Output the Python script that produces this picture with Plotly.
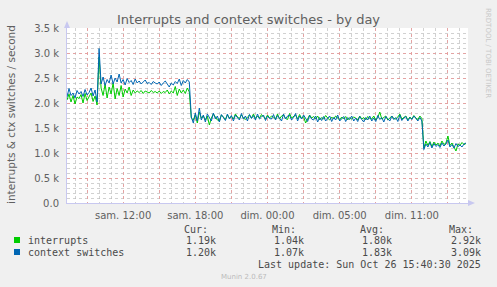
import plotly.graph_objects as go

# ---------------- data (10-minute samples, hours since 07:20 Saturday) ----------------
interrupts = [
    2060, 2180, 2020, 2150, 1980, 2120, 2090, 2170, 2000, 2190, 2050, 2130, 2200, 2030, 2140,
    1960, 2920,
    2300, 2150, 2380, 2100, 2320, 2180, 2400, 2080, 2290, 2150, 2350, 2120, 2280, 2200, 2320,
    2150, 2260, 2200, 2240, 2210, 2250, 2190, 2240, 2220, 2200, 2250, 2210, 2230, 2200, 2240,
    2190, 2230, 2210, 2260, 2180, 2240, 2200, 2330, 2150, 2280, 2200, 2260, 2190, 2300, 2220,
    1700, 1660, 1760, 1600, 1820, 1700, 1740, 1660, 1740, 1560, 1700, 1780, 1720, 1660, 1640, 1760, 1720, 1670, 1760, 1700,
    1730, 1680, 1780, 1720, 1690, 1760, 1700, 1670, 1720, 1760, 1700, 1780, 1690, 1740, 1700, 1770, 1720, 1680, 1760, 1700,
    1740, 1720, 1680, 1780, 1680, 1740, 1760, 1690, 1670, 1790, 1700, 1730, 1760, 1680, 1770, 1690, 1730, 1600, 1680, 1760,
    1700, 1730, 1680, 1740, 1660, 1710, 1680, 1750, 1700, 1660, 1720, 1680, 1740, 1700, 1660, 1720, 1680, 1730, 1660, 1710,
    1680, 1720, 1700, 1660, 1740, 1680, 1710, 1660, 1730, 1690, 1680, 1740, 1660, 1710, 1820, 1680, 1710, 1740, 1660, 1710,
    1740, 1690, 1680, 1720, 1780, 1680, 1710, 1740, 1660, 1720, 1680, 1750, 1700, 1670, 1740, 1690,
    1100, 1240, 1150, 1230, 1130, 1220, 1160, 1200, 1140, 1240, 1170, 1200, 1340, 1150, 1200, 1120,
    1040, 1180, 1150, 1210, 1170, 1190,
]
context_switches = [
    2120, 2290, 2150, 2200, 2100, 2250, 2180, 2230, 2130, 2270, 2160, 2210, 2300, 2140, 2260,
    2020, 3090,
    2380, 2520, 2350, 2470, 2400, 2560, 2380, 2500, 2420, 2580, 2400, 2470, 2360, 2490, 2410,
    2450, 2370, 2480, 2400, 2440, 2380, 2420, 2460, 2390, 2410, 2370, 2430, 2400, 2380, 2420,
    2350, 2400, 2440, 2380, 2320, 2400, 2360, 2430, 2390, 2480, 2350, 2450, 2400, 2470, 2420,
    1720, 1600, 1800, 1640, 1900, 1660, 1760, 1620, 1780, 1700, 1640, 1800, 1680, 1740, 1620, 1770, 1700, 1650, 1780, 1680,
    1750, 1640, 1760, 1700, 1660, 1790, 1680, 1740, 1640, 1770, 1690, 1750, 1660, 1780, 1680, 1720, 1760, 1650, 1740, 1690,
    1680, 1770, 1660, 1750, 1700, 1640, 1780, 1680, 1740, 1760, 1660, 1710, 1790, 1640, 1740, 1680, 1760, 1700, 1630, 1750,
    1680, 1660, 1740, 1620, 1710, 1650, 1730, 1640, 1690, 1740, 1630, 1710, 1660, 1760, 1640, 1690, 1730, 1630, 1710, 1670,
    1740, 1640, 1700, 1630, 1730, 1670, 1620, 1710, 1660, 1740, 1640, 1700, 1630, 1750, 1670, 1710, 1620, 1730, 1690, 1640,
    1740, 1670, 1710, 1630, 1760, 1650, 1700, 1730, 1640, 1710, 1670, 1740, 1690, 1640, 1710, 1640,
    1070, 1180, 1120, 1210, 1100, 1190, 1130, 1170, 1110, 1200, 1140, 1180, 1260, 1120, 1170, 1100,
    1190, 1130, 1160, 1120, 1180, 1200,
]
sample_hours = [i / 6 for i in range(len(interrupts))]

x_range = [0, 33.3333]
x_major_hours = [1.6667 + 3 * k for k in range(11)]
x_label_hours = [4.6667, 10.6667, 16.6667, 22.6667, 28.6667]
x_labels = ["sam. 12:00", "sam. 18:00", "dim. 00:00", "dim. 05:00", "dim. 11:00"]

y_tick_vals = [0, 500, 1000, 1500, 2000, 2500, 3000, 3500]
y_tick_text = ["0.0", "0.5 k", "1.0 k", "1.5 k", "2.0 k", "2.5 k", "3.0 k", "3.5 k"]

series_names = ["interrupts", "context switches"]
series_colors = ["#00CC00", "#0066B3"]
stats_cur = ["1.19k", "1.20k"]
stats_min = ["1.04k", "1.07k"]
stats_avg = ["1.80k", "1.83k"]
stats_max = ["2.92k", "3.09k"]

# ---------------- geometry ----------------
W, H = 497, 287
L, R, T, B = 67, 468, 28, 203
PW, PH = R - L, B - T


def px(x):
    return (x - L) / PW


def py(y):
    return (B - y) / PH


fig = go.Figure()
for name, vals, col in zip(series_names, [interrupts, context_switches], series_colors):
    fig.add_trace(go.Scatter(x=sample_hours, y=vals, mode="lines", name=name,
                             line=dict(color=col, width=1), showlegend=False))

tick_text_full = []
for h in x_major_hours:
    lab = ""
    for lh, lt in zip(x_label_hours, x_labels):
        if abs(lh - h) < 0.01:
            lab = lt
    tick_text_full.append(lab)

MAJ = "rgba(232,155,155,0.85)"
MIN = "rgba(185,185,185,0.65)"
AX = "#C8C8F0"
TXT = "#606060"

fig.update_layout(
    width=W, height=H,
    margin=dict(l=L, r=W - R, t=T, b=H - B),
    paper_bgcolor="#F0F0F0", plot_bgcolor="#FFFFFF",
    font=dict(family="DejaVu Sans", size=10, color=TXT),
    xaxis=dict(range=x_range, tickmode="array", tickvals=x_major_hours, ticktext=tick_text_full,
               showgrid=True, gridcolor=MAJ, griddash="dot", gridwidth=1,
               minor=dict(tick0=0.6667, dtick=1, showgrid=True, gridcolor=MIN, griddash="dot", gridwidth=1),
               ticks="outside", ticklen=3, tickcolor="rgba(0,0,0,0)",
               showline=True, linecolor=AX, linewidth=1, zeroline=False,
               tickfont=dict(family="DejaVu Sans", size=10, color=TXT)),
    yaxis=dict(range=[0, 3500], tickmode="array", tickvals=y_tick_vals, ticktext=y_tick_text,
               showgrid=True, gridcolor=MAJ, griddash="dot", gridwidth=1,
               minor=dict(tick0=0, dtick=100, showgrid=True, gridcolor=MIN, griddash="dot", gridwidth=1),
               ticks="outside", ticklen=5, tickcolor="rgba(0,0,0,0)",
               showline=True, linecolor=AX, linewidth=1, zeroline=False,
               tickfont=dict(family="DejaVu Sans", size=10, color=TXT)),
)

# axis arrows
fig.add_shape(type="path", xref="paper", yref="paper", line=dict(width=0), fillcolor=AX,
              path=f"M {px(64)} {py(28)} L {px(70)} {py(28)} L {px(67)} {py(21)} Z")
fig.add_shape(type="path", xref="paper", yref="paper", line=dict(width=0), fillcolor=AX,
              path=f"M {px(468)} {py(200)} L {px(468)} {py(206)} L {px(475)} {py(203)} Z")

ann = []
ann.append(dict(text="Interrupts and context switches - by day", x=px(248), y=py(19),
                font=dict(family="DejaVu Sans", size=13, color="#606060")))
ann.append(dict(text="interrupts & ctx switches / second", x=px(11), y=py(115), textangle=-90,
                font=dict(family="DejaVu Sans", size=10.5, color="#606060")))
ann.append(dict(text="RRDTOOL / TOBI OETIKER", x=px(488), y=py(53), textangle=90,
                font=dict(family="DejaVu Sans", size=7, color="#C8C8C8")))

MONO = "DejaVu Sans Mono"
LT = "#4A4A4A"
for hdr, xl in zip(["Cur:", "Min:", "Avg:", "Max:"], [182, 270, 358, 447]):
    ann.append(dict(text=hdr, x=px(xl), y=py(229), xanchor="left",
                    font=dict(family=MONO, size=10, color=LT)))
rows_y = [240, 252]
for i in range(2):
    fig.add_shape(type="rect", xref="paper", yref="paper", line=dict(width=0),
                  fillcolor=series_colors[i],
                  x0=px(14), x1=px(20), y0=py(rows_y[i] + 3), y1=py(rows_y[i] - 3))
    ann.append(dict(text=series_names[i], x=px(26), y=py(rows_y[i]), xanchor="left",
                    font=dict(family=MONO, size=10, color=LT)))
    for v, xr in zip([stats_cur[i], stats_min[i], stats_avg[i], stats_max[i]], [218, 306, 394, 483]):
        ann.append(dict(text=v, x=px(xr), y=py(rows_y[i]), xanchor="right",
                        font=dict(family=MONO, size=10, color=LT)))
ann.append(dict(text="Last update: Sun Oct 26 15:40:30 2025", x=px(483), y=py(264), xanchor="right",
                font=dict(family=MONO, size=10, color=LT)))
ann.append(dict(text="Munin 2.0.67", x=px(244), y=py(277),
                font=dict(family="DejaVu Sans", size=7, color="#BBBBBB")))

for a in ann:
    a.setdefault("xanchor", "center")
    a.update(xref="paper", yref="paper", showarrow=False, yanchor="middle")
    fig.add_annotation(**a)

fig.write_html("out.html")
